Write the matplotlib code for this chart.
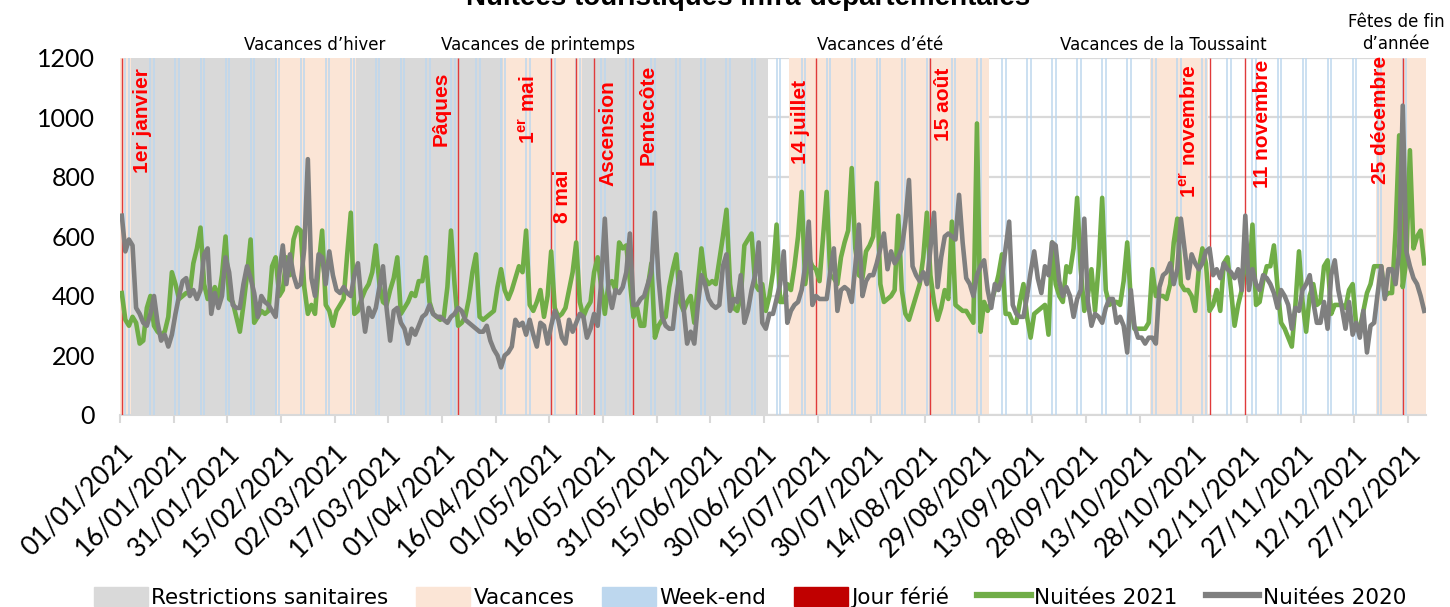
import matplotlib
matplotlib.use("Agg")
import matplotlib.pyplot as plt
import numpy as np
import pandas as pd
from matplotlib import font_manager as fm
from matplotlib.patches import Patch
from matplotlib.lines import Line2D

# ---------------- data ----------------
dates = pd.date_range("2021-01-01", "2021-12-31", freq="D")

nuitees_2021 = [
    410, 320, 300, 330, 310, 240, 250, 360, 400, 300, 280, 270, 280, 330, 480, 440, 390, 400, 410, 410,
    510, 560, 630, 440, 390, 400, 430, 390, 470, 600, 390, 380, 330, 280, 370, 470, 590, 310, 330, 350,
    340, 350, 500, 530, 400,
    420, 530, 470, 590, 630, 620, 430, 340, 370, 340, 500, 620, 370, 350, 300, 350, 370, 390, 540, 680,
    340, 350, 390, 420, 440, 480, 570, 440, 380, 370, 420, 460, 530, 340, 360, 380, 410, 400, 450, 450,
    530, 380, 340, 330,
    320, 330, 430, 620, 440, 300, 310, 330, 390, 480, 540, 330, 320, 330, 340, 350, 430, 490, 420, 390,
    420, 460, 500, 480, 620, 370, 350, 380, 420, 330, 400, 550, 360, 330, 340, 360, 420, 480, 580, 380,
    330, 360, 380, 480, 530,
    430, 340, 440, 450, 420, 580, 560, 570, 450, 330, 360, 300, 300, 430, 510, 260, 300, 320, 330, 430,
    490, 540, 380, 350, 380, 400, 310, 440, 560, 460, 440, 450, 440, 520, 600, 690, 440, 360, 350, 400,
    570, 590,
    610, 440, 420, 440, 350, 400, 480, 640, 380, 380, 440, 420, 500, 600, 750, 440, 530, 500, 490, 450,
    600, 750, 470, 460, 440, 530, 580, 620, 830, 560, 470, 460, 550, 570, 600, 780, 440, 380, 390, 400,
    420, 670, 420, 340, 320, 360, 400, 440,
    530, 680, 470, 380, 320, 360, 420, 390, 650, 370, 360, 350, 350, 330, 310, 980, 280, 380, 350, 380,
    420, 470, 540, 340, 340, 310, 310, 380, 440, 330, 260, 340, 350, 360, 370, 270, 580, 440, 400, 380,
    500,
    480, 560, 730, 490, 350, 400, 490, 350, 500, 730, 420, 370, 380, 380, 370, 450, 580, 390, 290, 290,
    290, 290, 310, 490, 400, 400, 400, 390, 440, 580, 660, 440, 420, 420, 400, 350, 490, 560, 510, 350,
    370, 420, 350, 510, 530, 420, 300, 370,
    420, 560, 440, 640, 370, 380, 450, 500, 500, 570, 430, 310, 290, 260, 230, 370, 550, 380, 280, 400,
    440, 370, 380, 500, 520, 340, 370, 370, 370, 360, 420, 440, 300, 290, 350, 410, 440, 500, 500, 500,
    400, 410, 410, 620, 940, 430, 520, 890, 560, 600, 620, 510,
]

nuitees_2020 = [
    670, 550, 590, 570, 360, 340, 310, 300, 340, 400, 310, 250, 270, 230, 270, 340, 400, 450, 460, 400,
    420, 390, 420, 540, 560, 340, 410, 360, 400, 530, 480, 370, 360, 360, 440, 500, 460, 410, 330, 400,
    380, 370, 350, 330, 470,
    570, 440, 540, 470, 430, 440, 560, 860, 460, 400, 540, 530, 440, 550, 470, 420, 410, 430, 410, 400,
    470, 510, 380, 280, 360, 330, 360, 430, 500, 360, 250, 350, 360, 310, 290, 240, 290, 270, 300, 330,
    340, 370, 340, 330,
    330, 320, 310, 330, 340, 360, 350, 320, 310, 300, 290, 280, 280, 300, 250, 220, 200, 160, 200, 210,
    230, 320, 300, 310, 270, 320, 270, 230, 310, 300, 240, 300, 350, 320, 260, 240, 320, 280, 310, 340,
    330, 260, 290, 340, 300,
    450, 660, 420, 360, 420, 410, 430, 480, 610, 370, 370, 390, 400, 440, 480, 680, 460, 330, 300, 290,
    290, 400, 480, 360, 240, 280, 240, 370, 470, 440, 390, 370, 360, 370, 500, 540, 350, 390, 380, 470,
    310, 350,
    420, 470, 580, 310, 290, 340, 340, 390, 440, 550, 310, 350, 370, 380, 420, 500, 650, 370, 400, 390,
    390, 390, 480, 560, 350, 420, 430, 420, 380, 500, 640, 400, 450, 470, 470, 510, 560, 610, 490, 550,
    510, 530, 560, 650, 790, 500, 470, 450,
    480, 440, 560, 680, 430, 530, 600, 610, 600, 590, 740, 580, 460, 440, 400, 470, 500, 520, 420, 360,
    440, 420, 460, 560, 650, 370, 340, 330, 330, 400, 480, 550, 460, 410, 500, 470, 580, 570, 450, 400,
    430,
    400, 330, 390, 420, 660, 380, 300, 340, 330, 310, 360, 390, 390, 310, 330, 300, 210, 420, 300, 260,
    260, 240, 260, 260, 240, 430, 470, 480, 510, 440, 490, 660, 560, 460, 540, 510, 490, 510, 550, 560,
    470, 490, 460, 510, 490, 480, 460, 490,
    420, 670, 420, 490, 440, 420, 470, 460, 440, 410, 360, 420, 400, 370, 290, 360, 350, 420, 440, 470,
    380, 310, 310, 380, 290, 470, 520, 420, 360, 290, 380, 270, 310, 260, 350, 210, 300, 310, 410, 500,
    390, 490, 490, 440, 550, 1040, 550, 500, 460, 440, 400, 350,
]

restrictions = [("2021-01-01", "2021-06-30")]
vacances = [
    ("2021-01-01", "2021-01-03"),
    ("2021-02-14", "2021-03-07"),
    ("2021-04-18", "2021-05-09"),
    ("2021-07-07", "2021-08-31"),
    ("2021-10-16", "2021-10-31"),
    ("2021-12-18", "2021-12-31"),
]
jours_feries = ["2021-01-01", "2021-04-05", "2021-05-01", "2021-05-08", "2021-05-13",
                "2021-05-24", "2021-07-14", "2021-08-15", "2021-11-01", "2021-11-11",
                "2021-12-25"]
feries_labels = ["1er janvier", "Pâques", r"1$^{\mathbf{er}}$ mai", "8 mai", "Ascension",
                 "Pentecôte", "14 juillet", "15 août", r"1$^{\mathbf{er}}$ novembre",
                 "11 novembre", "25 décembre"]
periode_labels = ["Vacances d’hiver", "Vacances de printemps", "Vacances d’été",
                  "Vacances de la Toussaint", "Fêtes de fin\nd’année"]
legend_labels = ["Restrictions sanitaires", "Vacances", "Week-end", "Jour férié",
                 "Nuitées 2021", "Nuitées 2020"]
y_ticks = [0, 200, 400, 600, 800, 1000, 1200]
x_tick_step = 15

# ---------------- style ----------------
W, H = 1450, 607
C_REST = "#D9D9D9"
C_VAC = "#FBE5D6"
C_WE = "#BDD7EE"
C_FER = "#C00000"
C_FER_LINE = "#E03A3A"
C_2021 = "#70AD47"
C_2020 = "#7F7F7F"


def has_font(name):
    try:
        fm.findfont(fm.FontProperties(family=name), fallback_to_default=False)
        return True
    except Exception:
        return False


NARROW = "Liberation Sans Narrow" if has_font("Liberation Sans Narrow") else "DejaVu Sans"
NSCALE = 1.0 if NARROW == "Liberation Sans Narrow" else 0.75
NUM = "Lato" if has_font("Lato") else "DejaVu Sans"
BOLD = "Liberation Sans" if has_font("Liberation Sans") else "DejaVu Sans"

plt.rcParams["mathtext.fontset"] = "custom"
plt.rcParams["mathtext.bf"] = BOLD + ":bold"
plt.rcParams["mathtext.rm"] = BOLD

fig = plt.figure(figsize=(W / 100, H / 100), dpi=100)
x_left, x_right, y_top, y_bot = 120, 1426, 58, 415
ax = fig.add_axes([x_left / W, 1 - y_bot / H, (x_right - x_left) / W, (y_bot - y_top) / H])

n = len(dates)
ymax = y_ticks[-1]


def idx(d):
    return (pd.Timestamp(d) - dates[0]).days


# gridlines
ax.set_axisbelow(True)
ax.yaxis.grid(True, color="#D9D9D9", lw=1.6, zorder=0)

# restrictions
for s, e in restrictions:
    i0, i1 = idx(s), idx(e)
    ax.bar(np.arange(i0, i1 + 1), ymax, width=1.0, align="edge", color=C_REST, lw=0, zorder=1)
# vacances
for s, e in vacances:
    i0, i1 = idx(s), idx(e)
    ax.bar(np.arange(i0, i1 + 1), ymax, width=1.0, align="edge", color=C_VAC, lw=0, zorder=2)
# weekends
we = np.where(dates.dayofweek >= 5)[0]
ax.vlines(we + 0.5, 0, ymax, color=C_WE, lw=1.1, zorder=3)
# jours feries
fer = np.array([idx(d) for d in jours_feries])
ax.vlines(fer + 0.5, 0, ymax, color=C_FER_LINE, lw=1.0, zorder=4)

# lines
xs = np.arange(n) + 0.5
ax.plot(xs, nuitees_2021, color=C_2021, lw=3.3, zorder=6, solid_joinstyle="round")
ax.plot(xs, nuitees_2020, color=C_2020, lw=3.3, zorder=7, solid_joinstyle="round")

ax.set_xlim(0, n)
ax.set_ylim(0, ymax)
ax.set_yticks(y_ticks)
ax.set_yticklabels([str(v) for v in y_ticks], fontfamily=NUM, fontsize=18)
ax.tick_params(axis="y", length=0, pad=18)
xt = np.arange(0, n, x_tick_step)
ax.set_xticks(xt)
ax.set_xticklabels([dates[i].strftime("%d/%m/%Y") for i in xt], rotation=45, ha="right",
                   va="top", rotation_mode="anchor", fontfamily=NUM, fontsize=19)
ax.tick_params(axis="x", length=6, width=1.5, color="#D9D9D9", pad=12)
for sp in ["top", "right", "left"]:
    ax.spines[sp].set_visible(False)
ax.spines["bottom"].set_color("#D9D9D9")
ax.spines["bottom"].set_linewidth(1.5)


def fx(px):
    return px / W


def fy(py):
    return 1 - py / H


# title (cut off at top as in the reference)
fig.text(fx(748), fy(5), "Nuitées touristiques infra-départementales", ha="center",
         va="baseline", fontsize=20, fontweight="bold", fontfamily=BOLD)

# period labels
per_pos = [(315, 45), (538, 45), (880, 45), (1163, 45), (1396, 33)]
for (px, py), lab in zip(per_pos, periode_labels):
    fig.text(fx(px), fy(py), lab, ha="center", va="center", fontsize=16 * NSCALE,
             fontfamily=NARROW, linespacing=1.35)

# holiday labels
fer_pos = [(143, 68), (441, 72), (529, 75), (563, 170), (608, 80), (648, 65),
           (800, 80), (944, 68), (1190, 65), (1262, 60), (1380, 56)]
for (px, py), lab in zip(fer_pos, feries_labels):
    fig.text(fx(px), fy(py), lab, ha="center", va="top", rotation=90, color="#FF0000",
             fontsize=15, fontweight="bold", fontfamily=BOLD)

# legend
handles = [Patch(color=C_REST), Patch(color=C_VAC), Patch(color=C_WE), Patch(color=C_FER),
           Line2D([], [], color=C_2021, lw=4.5), Line2D([], [], color=C_2020, lw=4.5)]
fig.legend(handles, legend_labels, loc="center", bbox_to_anchor=(fx(750), fy(597)), ncol=6,
           frameon=False, prop={"family": NARROW, "size": 15.5 if NSCALE < 1 else 20},
           handlelength=2.5, handleheight=1.0, handletextpad=0.15, columnspacing=1.3,
           borderpad=0, borderaxespad=0)

fig.savefig("out.png", dpi=100)
